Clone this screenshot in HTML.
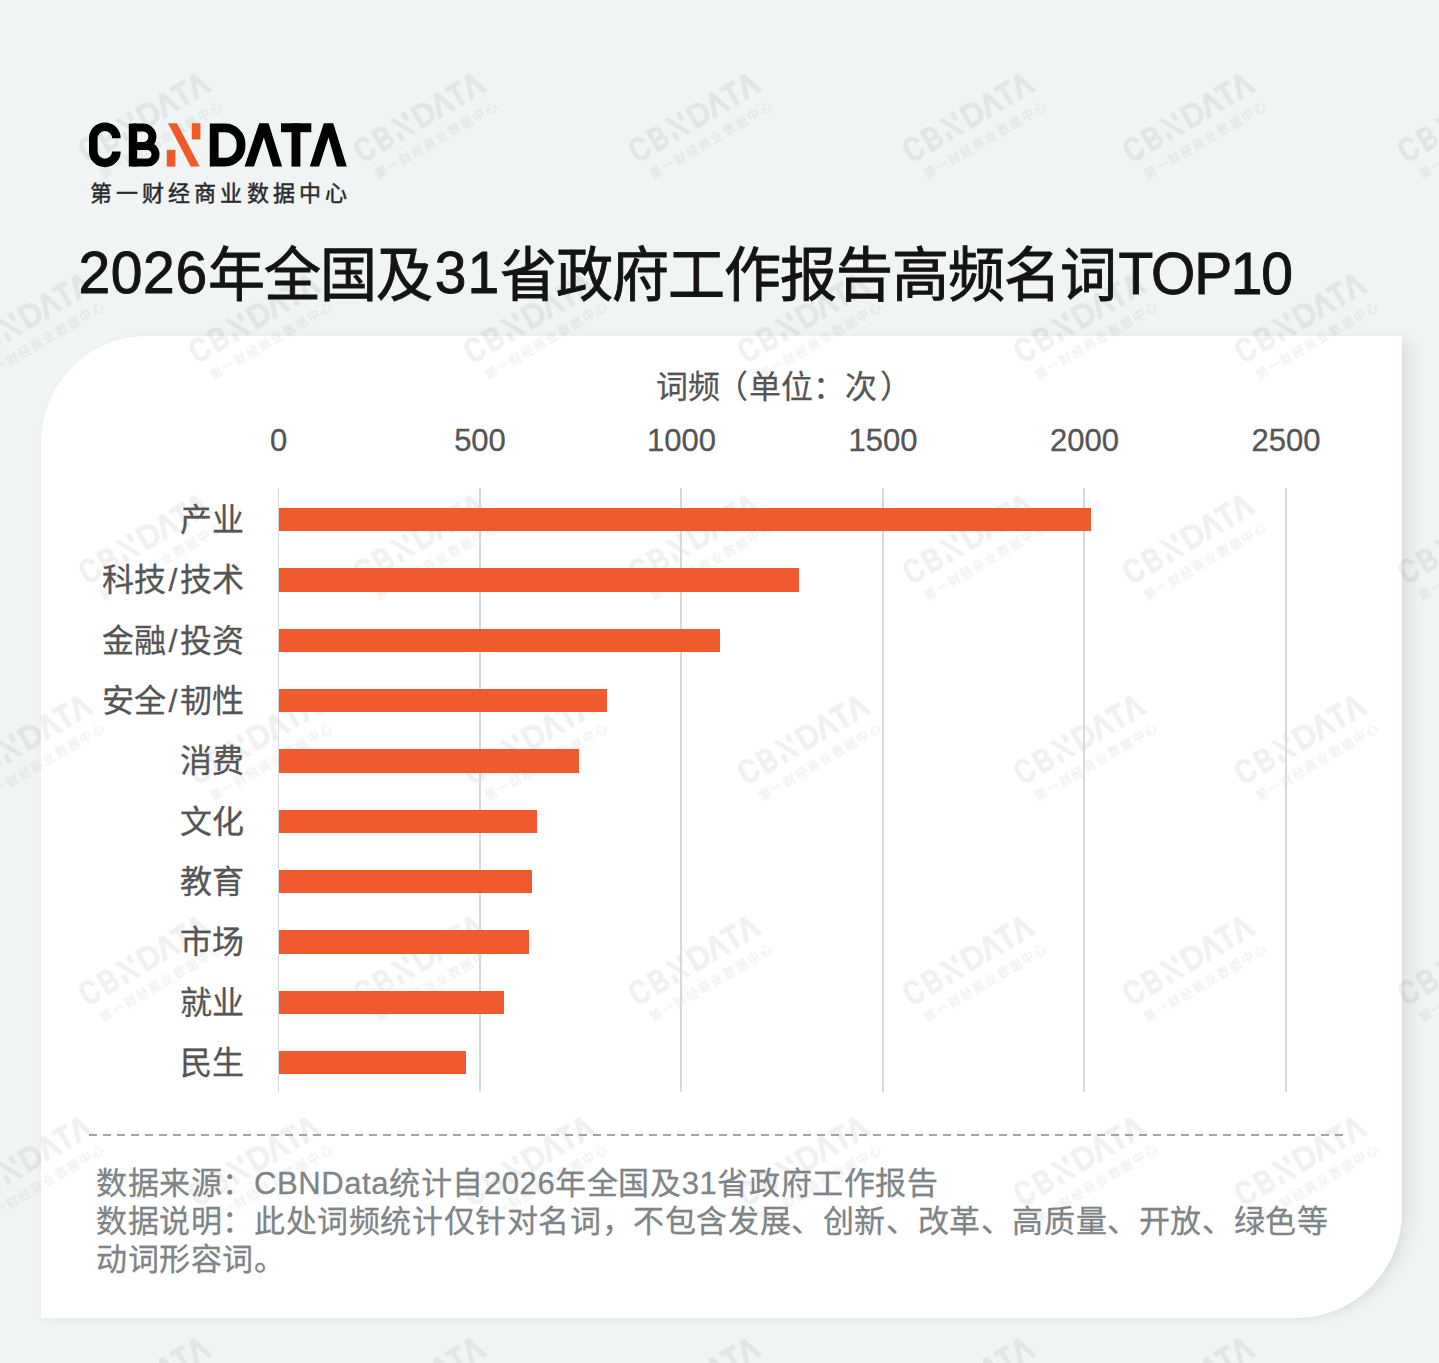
<!DOCTYPE html>
<html lang="zh-CN">
<head>
<meta charset="utf-8">
<style>
html,body{margin:0;padding:0;}
body{width:1439px;height:1363px;overflow:hidden;background:#f0f4f5;position:relative;font-family:"Liberation Sans",sans-serif;}
.abs{position:absolute;white-space:nowrap;}
#card{position:absolute;left:41px;top:336px;width:1361px;height:982px;background:#fff;border-radius:106px 0 106px 0;box-shadow:13px 0 16px -3px rgba(0,0,0,0.065),0 3px 7px rgba(0,0,0,0.035);}
#title{left:78.5px;top:235.5px;font-size:57px;line-height:80px;color:#141414;-webkit-text-stroke:0.9px #141414;transform:scaleY(1.045);transform-origin:0 58px;}
#title .c{letter-spacing:-1px;}
#title .d{letter-spacing:0.6px;position:relative;top:-3.5px;}
#title .d31{margin-left:3px;letter-spacing:1px;position:relative;top:-3.5px;}
#title .tp{margin-left:2.5px;letter-spacing:-1.3px;position:relative;top:-2px;}
#sub{left:90px;top:177.5px;font-size:22px;line-height:32px;color:#2a2a2a;letter-spacing:4.1px;-webkit-text-stroke:0.45px #2a2a2a;}
#axt{left:656px;top:366.5px;font-size:32px;line-height:40px;color:#555;-webkit-text-stroke:0.25px #555;}
.tick{position:absolute;top:421px;font-size:31px;line-height:40px;color:#555;-webkit-text-stroke:0.3px #555;width:120px;text-align:center;}
.grid{position:absolute;top:488px;height:604px;width:1.6px;background:#d9d9d9;}
.bar{position:absolute;left:278.5px;height:23.7px;background:#ef5a2f;}
.lab .sl{margin:0 2.5px;}
.lab{position:absolute;right:1195px;font-size:32px;line-height:40px;color:#555;-webkit-text-stroke:0.3px #555;text-align:right;white-space:nowrap;}
#dash{position:absolute;left:89px;top:1134px;width:1255px;height:2px;background-image:linear-gradient(to right,#a3a3a3 0 8px,transparent 8px 14px);background-size:14px 2px;}
.foot{position:absolute;left:96px;font-size:31px;letter-spacing:0.6px;line-height:38px;color:#7f8487;-webkit-text-stroke:0.3px #7f8487;white-space:nowrap;}
</style>
</head>
<body>
<div id="card"></div>
<svg class="abs" style="left:0;top:0" width="1439" height="1363" viewBox="0 0 1439 1363">
 <defs>
  <filter id="bl" x="-10%" y="-10%" width="120%" height="120%"><feGaussianBlur stdDeviation="0.6"/></filter>
  <g id="w" fill="#000" filter="url(#bl)">
   <g transform="scale(0.56) translate(-89 -167)">
    <path d="M116.4 138.3 A11.55 11.55 0 0 0 93.3 138.3 V151.4 A11.55 11.55 0 0 0 116.4 151.4 Z" fill="none"/>
    <path d="M120.7 138.3 H112.1 A7.25 7.25 0 0 0 97.6 138.3 V151.4 A7.25 7.25 0 0 0 112.1 151.4 H120.7 A15.85 15.85 0 0 1 89 151.4 V138.3 A15.85 15.85 0 0 1 120.7 138.3 Z"/>
    <path d="M128.8 123.6 H143.2 A13.2 13.2 0 0 1 153.5 145.2 A12.25 12.25 0 0 1 147.25 166.5 H128.8 Z M137.2 131.6 V141.9 H143.2 A5.15 5.15 0 0 0 143.2 131.6 Z M137.2 150.1 V158.5 H147.25 A4.2 4.2 0 0 0 147.25 150.1 Z" fill-rule="evenodd"/>
    <rect x="166.8" y="149.8" width="8.6" height="16.8"/>
    <rect x="191.8" y="123.2" width="8.6" height="16.2"/>
    <polygon points="168,123.2 177,123.2 199.7,166.6 190.7,166.6"/>
    <path d="M209.8 123.3 H225 A20.4 20.4 0 0 1 245.4 143.7 V146.2 A20.4 20.4 0 0 1 225 166.6 H209.8 Z M218.6 132.1 V157.8 H225 A11.6 11.6 0 0 0 236.6 146.2 V143.7 A11.6 11.6 0 0 0 225 132.1 Z" fill-rule="evenodd"/>
    <polygon points="259.2,123.3 268.6,123.3 282.1,166.6 272.8,166.6 263.9,137.4 254,166.6 244.6,166.6"/>
    <rect x="281" y="123.3" width="30.3" height="8.9"/>
    <rect x="291.5" y="123.3" width="8.9" height="43.3"/>
    <polygon points="323.8,123.3 333.2,123.3 346.8,166.6 336.9,166.6 328.5,137.4 319.1,166.6 309.8,166.6"/>
   </g>
   <text x="5" y="21" font-size="12" letter-spacing="2.1" font-weight="bold" font-family="Liberation Sans, sans-serif">第一财经商业数据中心</text>
  </g>
 </defs>
  <use href="#w" transform="translate(88.5 164) rotate(-30.5)" opacity="0.055"/>
  <use href="#w" transform="translate(363.5 164) rotate(-30.5)" opacity="0.055"/>
  <use href="#w" transform="translate(638.5 164) rotate(-30.5)" opacity="0.055"/>
  <use href="#w" transform="translate(912.5 164) rotate(-30.5)" opacity="0.055"/>
  <use href="#w" transform="translate(1132.5 164) rotate(-30.5)" opacity="0.055"/>
  <use href="#w" transform="translate(1407.5 164) rotate(-30.5)" opacity="0.055"/>
  <use href="#w" transform="translate(88.5 585.5) rotate(-30.5)" opacity="0.055"/>
  <use href="#w" transform="translate(363.5 585.5) rotate(-30.5)" opacity="0.055"/>
  <use href="#w" transform="translate(638.5 585.5) rotate(-30.5)" opacity="0.055"/>
  <use href="#w" transform="translate(912.5 585.5) rotate(-30.5)" opacity="0.055"/>
  <use href="#w" transform="translate(1132.5 585.5) rotate(-30.5)" opacity="0.055"/>
  <use href="#w" transform="translate(1407.5 585.5) rotate(-30.5)" opacity="0.055"/>
  <use href="#w" transform="translate(88.5 1007) rotate(-30.5)" opacity="0.055"/>
  <use href="#w" transform="translate(363.5 1007) rotate(-30.5)" opacity="0.055"/>
  <use href="#w" transform="translate(638.5 1007) rotate(-30.5)" opacity="0.055"/>
  <use href="#w" transform="translate(912.5 1007) rotate(-30.5)" opacity="0.055"/>
  <use href="#w" transform="translate(1132.5 1007) rotate(-30.5)" opacity="0.055"/>
  <use href="#w" transform="translate(1407.5 1007) rotate(-30.5)" opacity="0.055"/>
  <use href="#w" transform="translate(88.5 1428.5) rotate(-30.5)" opacity="0.055"/>
  <use href="#w" transform="translate(363.5 1428.5) rotate(-30.5)" opacity="0.055"/>
  <use href="#w" transform="translate(638.5 1428.5) rotate(-30.5)" opacity="0.055"/>
  <use href="#w" transform="translate(912.5 1428.5) rotate(-30.5)" opacity="0.055"/>
  <use href="#w" transform="translate(1132.5 1428.5) rotate(-30.5)" opacity="0.055"/>
  <use href="#w" transform="translate(1407.5 1428.5) rotate(-30.5)" opacity="0.055"/>
  <use href="#w" transform="translate(-29.5 364.5) rotate(-30.5)" opacity="0.055"/>
  <use href="#w" transform="translate(198.5 364.5) rotate(-30.5)" opacity="0.055"/>
  <use href="#w" transform="translate(473.5 364.5) rotate(-30.5)" opacity="0.055"/>
  <use href="#w" transform="translate(747.5 364.5) rotate(-30.5)" opacity="0.055"/>
  <use href="#w" transform="translate(1023.5 364.5) rotate(-30.5)" opacity="0.055"/>
  <use href="#w" transform="translate(1244.5 364.5) rotate(-30.5)" opacity="0.055"/>
  <use href="#w" transform="translate(-29.5 786) rotate(-30.5)" opacity="0.055"/>
  <use href="#w" transform="translate(198.5 786) rotate(-30.5)" opacity="0.055"/>
  <use href="#w" transform="translate(473.5 786) rotate(-30.5)" opacity="0.055"/>
  <use href="#w" transform="translate(747.5 786) rotate(-30.5)" opacity="0.055"/>
  <use href="#w" transform="translate(1023.5 786) rotate(-30.5)" opacity="0.055"/>
  <use href="#w" transform="translate(1244.5 786) rotate(-30.5)" opacity="0.055"/>
  <use href="#w" transform="translate(-29.5 1207.5) rotate(-30.5)" opacity="0.055"/>
  <use href="#w" transform="translate(198.5 1207.5) rotate(-30.5)" opacity="0.055"/>
  <use href="#w" transform="translate(473.5 1207.5) rotate(-30.5)" opacity="0.055"/>
  <use href="#w" transform="translate(747.5 1207.5) rotate(-30.5)" opacity="0.055"/>
  <use href="#w" transform="translate(1023.5 1207.5) rotate(-30.5)" opacity="0.055"/>
  <use href="#w" transform="translate(1244.5 1207.5) rotate(-30.5)" opacity="0.055"/>
</svg>

<svg class="abs" style="left:0;top:0" width="400" height="180" viewBox="0 0 400 180">
  <!-- C -->
  <path d="M116.4 138.3 A11.55 11.55 0 0 0 93.3 138.3 V151.4 A11.55 11.55 0 0 0 116.4 151.4" fill="none" stroke="#000" stroke-width="8.6"/>
  <!-- B -->
  <rect x="128.8" y="123.6" width="8.4" height="42.9" fill="#000"/>
  <path d="M132.8 127.6 H143.2 A9.2 9.2 0 0 1 143.2 146 H132.8" fill="none" stroke="#000" stroke-width="8"/>
  <path d="M132.8 146 H147.25 A8.25 8.25 0 0 1 147.25 162.5 H132.8" fill="none" stroke="#000" stroke-width="8"/>
  <!-- N orange -->
  <rect x="166.8" y="149.8" width="8.6" height="16.8" fill="#f05a28"/>
  <rect x="191.8" y="123.2" width="8.6" height="16.2" fill="#f05a28"/>
  <polygon points="168,123.2 177,123.2 199.7,166.6 190.7,166.6" fill="#f05a28"/>
  <!-- D -->
  <path d="M214.2 127.8 H225 A16 16 0 0 1 241 143.8 V146.2 A16 16 0 0 1 225 162.2 H214.2 Z" fill="none" stroke="#000" stroke-width="8.8"/>
  <!-- A1 -->
  <polygon points="259.2,123.3 268.6,123.3 282.1,166.6 272.8,166.6 263.9,137.4 254,166.6 244.6,166.6" fill="#000"/>
  <!-- T -->
  <rect x="281" y="123.3" width="30.3" height="8.9" fill="#000"/>
  <rect x="291.5" y="123.3" width="8.9" height="43.3" fill="#000"/>
  <!-- A2 -->
  <polygon points="323.8,123.3 333.2,123.3 346.8,166.6 336.9,166.6 328.5,137.4 319.1,166.6 309.8,166.6" fill="#000"/>
</svg>
<div id="sub" class="abs">第一财经商业数据中心</div>
<div id="title" class="abs"><span class="d">2026</span><span class="c">年全国及</span><span class="d31">31</span><span class="c">省政府工作报告高频名词</span><span class="tp">TOP10</span></div>

<div id="axt" class="abs">词频<span style="margin-left:-4.5px;margin-right:1.5px">（</span>单位：次<span style="margin-left:2.5px">）</span></div>
<div class="tick" style="left:218.5px">0</div>
<div class="tick" style="left:420px">500</div>
<div class="tick" style="left:621.5px">1000</div>
<div class="tick" style="left:823px">1500</div>
<div class="tick" style="left:1024.5px">2000</div>
<div class="tick" style="left:1226px">2500</div>

<div class="grid" style="left:277.5px"></div>
<div class="grid" style="left:479px"></div>
<div class="grid" style="left:680.4px"></div>
<div class="grid" style="left:882px"></div>
<div class="grid" style="left:1083.4px"></div>
<div class="grid" style="left:1285px"></div>

<div class="bar" style="top:507.8px;width:812.1px"></div>
<div class="bar" style="top:568.1px;width:520.6px"></div>
<div class="bar" style="top:628.5px;width:441.1px"></div>
<div class="bar" style="top:688.8px;width:328.1px"></div>
<div class="bar" style="top:749.1px;width:300.8px"></div>
<div class="bar" style="top:809.5px;width:258.6px"></div>
<div class="bar" style="top:869.8px;width:253.6px"></div>
<div class="bar" style="top:930.1px;width:250.1px"></div>
<div class="bar" style="top:990.5px;width:225.7px"></div>
<div class="bar" style="top:1050.8px;width:187.3px"></div>

<div class="lab" style="top:499.5px">产业</div>
<div class="lab" style="top:559.5px">科技<span class="sl">/</span>技术</div>
<div class="lab" style="top:620.5px">金融<span class="sl">/</span>投资</div>
<div class="lab" style="top:680.5px">安全<span class="sl">/</span>韧性</div>
<div class="lab" style="top:740.5px">消费</div>
<div class="lab" style="top:801.5px">文化</div>
<div class="lab" style="top:861.5px">教育</div>
<div class="lab" style="top:921.5px">市场</div>
<div class="lab" style="top:982.5px">就业</div>
<div class="lab" style="top:1042.5px">民生</div>

<div id="dash"></div>
<div class="foot" style="top:1164.5px">数据来源：CBNData统计自2026年全国及31省政府工作报告</div>
<div class="foot" style="top:1202.5px">数据说明：此处词频统计仅针对名词，不包含发展、创新、改革、高质量、开放、绿色等</div>
<div class="foot" style="top:1240.5px">动词形容词。</div>
</body>
</html>
